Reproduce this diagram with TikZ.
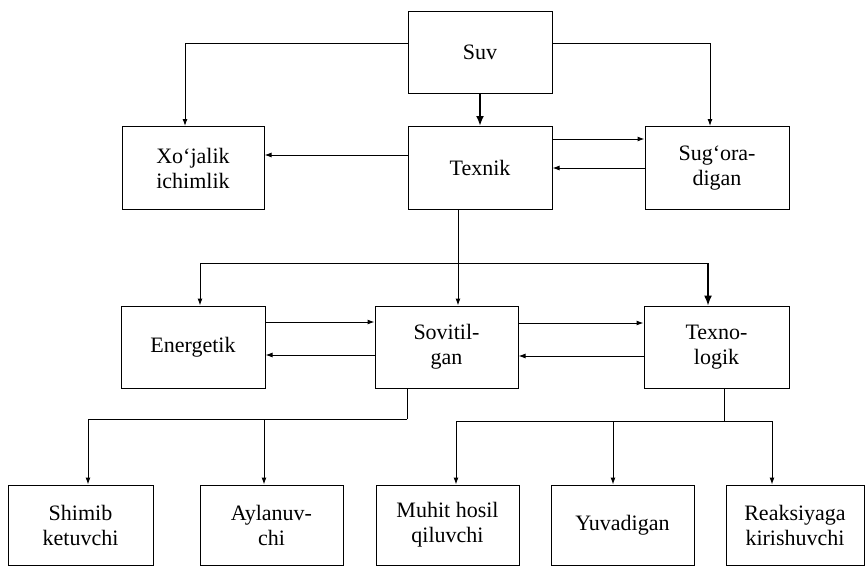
\documentclass[tikz,border=0pt]{standalone}
\usepackage{fontspec}
\setmainfont{Liberation Serif}
\usetikzlibrary{positioning, shapes.geometric, arrows.meta}

\begin{document}
\begin{tikzpicture}[x=0.5pt, y=-0.5pt,
  box/.style={draw, line width=0.5pt, minimum width=72pt, minimum height=41.5pt, inner sep=0pt, align=center, font=\fontsize{11}{12.5}\selectfont},
  arr/.style={-{Latex[length=3.5pt, width=2.5pt]}, line width=0.5pt},
  arrbig/.style={-{Latex[length=5pt, width=4pt]}, line width=1pt}]
\useasboundingbox (0,0) rectangle (866,568);
\node[box, minimum height=41pt] (suv) at (480,52) {Suv};
\node[box, minimum width=71pt] (xoj) at (193,168) {Xo‘jalik\\ichimlik};
\node[box] (texnik) at (480,168) {Texnik};
\node[box] (sug) at (717,168) {Sug‘ora-\\digan};
\node[box, minimum height=41pt] (energ) at (193,347) {Energetik};
\node[box, minimum height=41pt, minimum width=71.5pt] (sovit) at (446.5,347) {Sovitil-\\gan};
\node[box, minimum height=41pt, minimum width=72.5pt] (texno) at (716.5,347) {Texno-\\logik};
\node[box, minimum height=40pt, minimum width=72.5pt] (shimib) at (80.5,525) {Shimib\\ketuvchi};
\node[box, minimum height=40pt, minimum width=71.5pt] (aylan) at (271.5,525) {Aylanuv-\\chi};
\node[box, minimum height=40pt, minimum width=71.5pt] (muhit) at (447.5,525) {Muhit hosil\\qiluvchi};
\node[box, minimum height=40pt, minimum width=71.5pt] (yuv) at (622.5,525) {Yuvadigan};
\node[box, minimum height=40pt, minimum width=69pt] (reak) at (795,525) {Reaksiyaga\\kirishuvchi};
\coordinate (br1) at (458,263);
\coordinate (br2) at (407,419);
\coordinate (br3) at (724,421);
\coordinate (tn) at ([xshift=-4.25pt]texno.north);
\draw[arr] ([yshift=4.5pt]suv.west) -| ([xshift=-4pt]xoj.north);
\draw[arr] ([yshift=4.5pt]suv.east) -| ([xshift=-3.5pt]sug.north);
\draw[arrbig] (suv.south) -- (texnik.north);
\draw[arr] ([yshift=6.5pt]texnik.west) -- ([yshift=6.5pt]xoj.east);
\draw[arr] ([yshift=14.5pt]texnik.east) -- ([yshift=14.5pt]sug.west);
\draw[arr] (sug.west) -- (texnik.east);
\draw (texnik.south -| br1) -- (br1);
\draw[arr] (br1) -- (sovit.north -| br1);
\draw[arr] (br1) -| ([xshift=3.5pt]energ.north);
\draw (br1) -- (br1 -| tn);
\draw[arrbig, line width=0.7pt] (br1 -| tn) -- (tn);
\draw[arr] ([yshift=12.5pt]energ.east) -- ([yshift=12.5pt]sovit.west);
\draw[arr] ([yshift=-4pt]sovit.west) -- ([yshift=-4pt]energ.east);
\draw[arr] ([yshift=12pt]sovit.east) -- ([yshift=12pt]texno.west);
\draw[arr] ([yshift=-4.5pt]texno.west) -- ([yshift=-4.5pt]sovit.east);
\draw (sovit.south -| br2) -- (br2);
\draw[arr] (br2) -| ([xshift=3.75pt]shimib.north);
\draw[arr] (br2) -| ([xshift=-3.75pt]aylan.north);
\draw (texno.south -| br3) -- (br3);
\draw[arr] (br3) -| ([xshift=4.25pt]muhit.north);
\draw[arr] (br3) -| ([xshift=-4.75pt]yuv.north);
\draw[arr] (br3) -| ([xshift=-11.5pt]reak.north);
\end{tikzpicture}
\end{document}
